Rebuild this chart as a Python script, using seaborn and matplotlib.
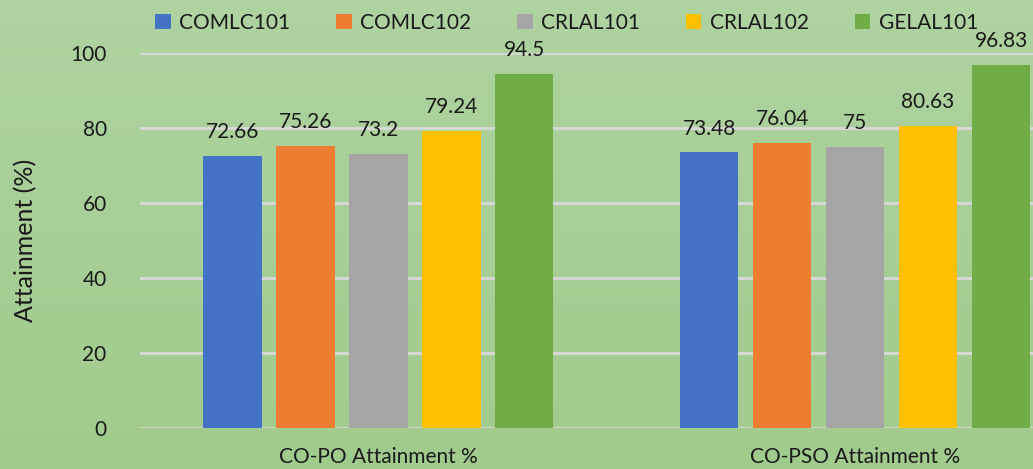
import numpy as np
import pandas as pd
import matplotlib.pyplot as plt
import seaborn as sns

categories = ["CO-PO Attainment %", "CO-PSO Attainment %"]
courses = ["COMLC101", "COMLC102", "CRLAL101", "CRLAL102", "GELAL101"]
co_po = [72.66, 75.26, 73.2, 79.24, 94.5]
co_pso = [73.48, 76.04, 75, 80.63, 96.83]
colors = ["#4472C4", "#ED7D31", "#A5A5A5", "#FFC000", "#70AD47"]

df = pd.DataFrame({
    "Category": [categories[0]] * 5 + [categories[1]] * 5,
    "Course": courses * 2,
    "Value": co_po + co_pso,
})

sns.set_style("white")
plt.rcParams["font.family"] = ["Lato", "DejaVu Sans"]

fig = plt.figure(figsize=(10.33, 4.69), dpi=100)

# gradient background
bg = fig.add_axes([0, 0, 1, 1], zorder=-10)
grad = np.linspace(0, 1, 256).reshape(-1, 1)
top = np.array([0xAF, 0xD3, 0xA1]) / 255
bot = np.array([0xA1, 0xCB, 0x8C]) / 255
img = top[None, None, :] * (1 - grad[:, :, None]) + bot[None, None, :] * grad[:, :, None]
bg.imshow(img, aspect="auto", extent=[0, 1, 0, 1])
bg.axis("off")

ax = fig.add_axes([140 / 1033, (469 - 428) / 469, (1033 - 140) / 1033, 375 / 469])
ax.patch.set_alpha(0)
sns.barplot(data=df, x="Category", y="Value", hue="Course", palette=colors,
            width=0.765, gap=0.2, saturation=1, linewidth=0, ax=ax, legend=True)

for c in ax.containers:
    ax.bar_label(c, labels=[f"{v:g}" for v in c.datavalues], padding=10,
                 fontsize=15, color="#1a1a1a")

ax.set_xlim(-0.5, 1.373)
ax.set_ylim(0, 100)
ax.set_yticks([0, 20, 40, 60, 80, 100])
ax.yaxis.grid(True, color="#D9D9D9", linewidth=2)
ax.set_axisbelow(True)
for s in ax.spines.values():
    s.set_visible(False)
ax.tick_params(axis="both", length=0, labelsize=15, colors="#1a1a1a")
ax.tick_params(axis="y", pad=24)
ax.tick_params(axis="x", pad=14)
ax.set_xlabel("")
ax.set_ylabel("Attainment (%)", fontsize=18, color="#1a1a1a", labelpad=24)
for lbl in ax.get_yticklabels():
    lbl.set_horizontalalignment("right")

ax.legend(ncol=5, frameon=False, loc="upper left", bbox_to_anchor=(-0.004, 1.157),
          fontsize=15, handlelength=0.75, handleheight=0.75, columnspacing=2.2,
          handletextpad=0.4, labelcolor="#1a1a1a")

fig.savefig("out.png", dpi=100)
